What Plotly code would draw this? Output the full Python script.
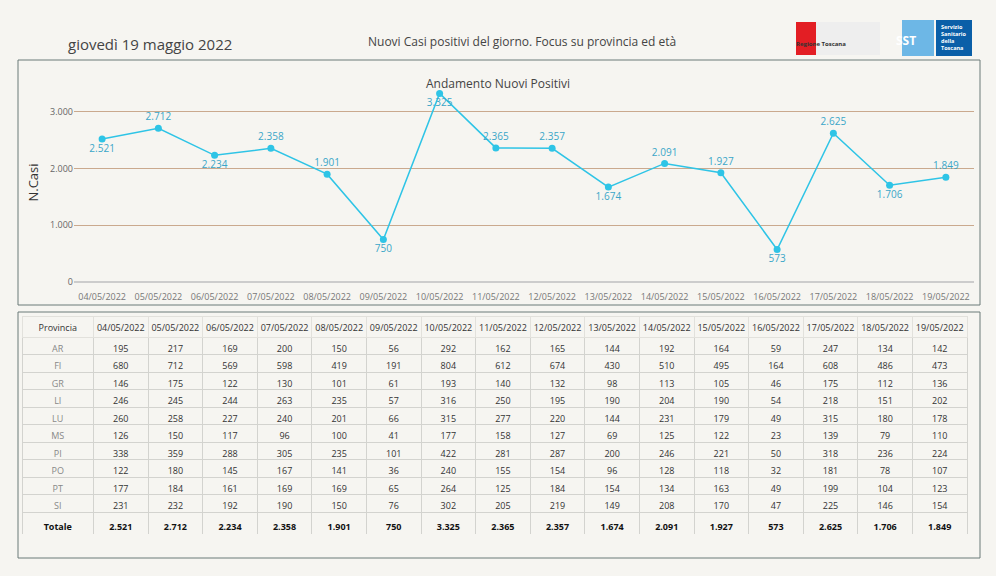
import plotly.graph_objects as go

dates = ["04/05/2022","05/05/2022","06/05/2022","07/05/2022","08/05/2022","09/05/2022","10/05/2022","11/05/2022",
         "12/05/2022","13/05/2022","14/05/2022","15/05/2022","16/05/2022","17/05/2022","18/05/2022","19/05/2022"]
totals = [2521,2712,2234,2358,1901,750,3325,2365,2357,1674,2091,1927,573,2625,1706,1849]
label_pos = ["bottom center","top center","bottom center","top center","top center","bottom center","bottom center","top center",
             "top center","bottom center","top center","top center","bottom center","top center","bottom center","top center"]
province = ["AR","FI","GR","LI","LU","MS","PI","PO","PT","SI"]
prov_values = {
 "AR":[195,217,169,200,150,56,292,162,165,144,192,164,59,247,134,142],
 "FI":[680,712,569,598,419,191,804,612,674,430,510,495,164,608,486,473],
 "GR":[146,175,122,130,101,61,193,140,132,98,113,105,46,175,112,136],
 "LI":[246,245,244,263,235,57,316,250,195,190,204,190,54,218,151,202],
 "LU":[260,258,227,240,201,66,315,277,220,144,231,179,49,315,180,178],
 "MS":[126,150,117,96,100,41,177,158,127,69,125,122,23,139,79,110],
 "PI":[338,359,288,305,235,101,422,281,287,200,246,221,50,318,236,224],
 "PO":[122,180,145,167,141,36,240,155,154,96,128,118,32,181,78,107],
 "PT":[177,184,161,169,169,65,264,125,184,154,134,163,49,199,104,123],
 "SI":[231,232,192,190,150,76,302,205,219,149,208,170,47,225,146,154],
}

def it(n):
    return f"{n:,}".replace(",", ".")

W, H = 996, 576
def py(p): return 1 - p / H
def px(p): return p / W

BG = "#f6f5f1"
LINE = "#2ec4e6"
FONT = "Open Sans"

fig = go.Figure()
fig.add_trace(go.Scatter(
    x=dates, y=totals, mode="lines+markers+text",
    text=[it(v) for v in totals], textposition=label_pos,
    textfont=dict(color="#3aa6c8", size=10, family=FONT),
    line=dict(color=LINE, width=1.5), marker=dict(color=LINE, size=7),
    hoverinfo="skip", cliponaxis=False, xaxis="x", yaxis="y"))

header = ["Provincia"] + dates
cols = [province + ["<b>Totale</b>"]]
for i in range(len(dates)):
    cols.append([str(prov_values[p][i]) for p in province] + [f"<b>{it(totals[i])}</b>"])
fig.add_trace(go.Table(
    domain=dict(x=[px(22), px(968)], y=[py(535), py(316)]),
    columnwidth=[72] + [55] * 16,
    header=dict(values=header, fill_color=BG, line_color="#e2e1dc", height=21,
                font=dict(size=9, color="#333", family=FONT), align="center"),
    cells=dict(values=cols, fill_color=BG, line_color="#d3d3cf", height=17.5,
               font=dict(size=9, color=[["#888"] * 10 + ["#111"]] + [["#333"] * 10 + ["#111"]] * 16, family=FONT),
               align="center")))

shapes = [
    dict(type="rect", xref="paper", yref="paper", x0=px(18), x1=px(980), y0=py(305), y1=py(60),
         line=dict(color="#6b7b78", width=1), fillcolor="rgba(0,0,0,0)", layer="below"),
    dict(type="rect", xref="paper", yref="paper", x0=px(18), x1=px(980), y0=py(558), y1=py(312),
         line=dict(color="#6b7b78", width=1), fillcolor="rgba(0,0,0,0)", layer="below"),
    dict(type="rect", xref="paper", yref="paper", x0=px(796), x1=px(816), y0=py(55), y1=py(22),
         line=dict(width=0), fillcolor="#e31e24"),
    dict(type="rect", xref="paper", yref="paper", x0=px(816), x1=px(880), y0=py(55), y1=py(22),
         line=dict(width=0), fillcolor="#eeeeee"),
    dict(type="rect", xref="paper", yref="paper", x0=px(902), x1=px(934), y0=py(56), y1=py(20),
         line=dict(width=0), fillcolor="#6db7e6"),
    dict(type="rect", xref="paper", yref="paper", x0=px(936), x1=px(972), y0=py(56), y1=py(20),
         line=dict(width=0), fillcolor="#0a5fa8"),
]
annotations = [
    dict(text="giovedì 19 maggio 2022", x=px(66), y=py(32), xref="paper", yref="paper", xanchor="left",
         showarrow=False, font=dict(size=15, color="#444", family=FONT)),
    dict(text="Nuovi Casi positivi del giorno. Focus su provincia ed età", x=px(522), y=py(31), xref="paper", yref="paper",
         showarrow=False, font=dict(size=12, color="#444", family=FONT)),
    dict(text="Andamento Nuovi Positivi", x=px(498), y=py(73), xref="paper", yref="paper",
         showarrow=False, font=dict(size=12, color="#444", family=FONT)),
    dict(text="<b>Regione Toscana</b>", x=px(848), y=py(38), xref="paper", yref="paper",
         showarrow=False, font=dict(size=6, color="#333", family=FONT)),
    dict(text="<b>SST</b>", x=px(918), y=py(30), xref="paper", yref="paper",
         showarrow=False, font=dict(size=12, color="white", family=FONT)),
    dict(text="<b>Servizio<br>Sanitario<br>della<br>Toscana</b>", x=px(939), y=py(38), xref="paper", yref="paper",
         xanchor="left", yanchor="middle", align="left", showarrow=False, font=dict(size=5.5, color="white", family=FONT)),
]

fig.update_layout(
    width=W, height=H, margin=dict(l=0, r=0, t=0, b=0),
    paper_bgcolor=BG, plot_bgcolor=BG, showlegend=False,
    font=dict(family=FONT),
    shapes=shapes, annotations=annotations,
    xaxis=dict(domain=[px(74), px(974)], showgrid=False, showline=False, ticks="",
               tickfont=dict(size=9, color="#777"), range=[-0.5, 15.5], type="category", fixedrange=True),
    yaxis=dict(domain=[py(290), py(75)], range=[-141, 3650], tickvals=[0, 1000, 2000, 3000],
               ticktext=["0", "1.000", "2.000", "3.000"], gridcolor="#caa98e", gridwidth=1,
               zeroline=True, zerolinecolor="#cccccc", tickfont=dict(size=9, color="#666"),
               title=dict(text="N.Casi", font=dict(size=13, color="#333"), standoff=8), ticks="", ticklen=0),
)
fig.write_html("out.html", config=dict(displayModeBar=False),
               post_script="document.body.style.margin='0';document.body.style.background='%s';" % BG)
